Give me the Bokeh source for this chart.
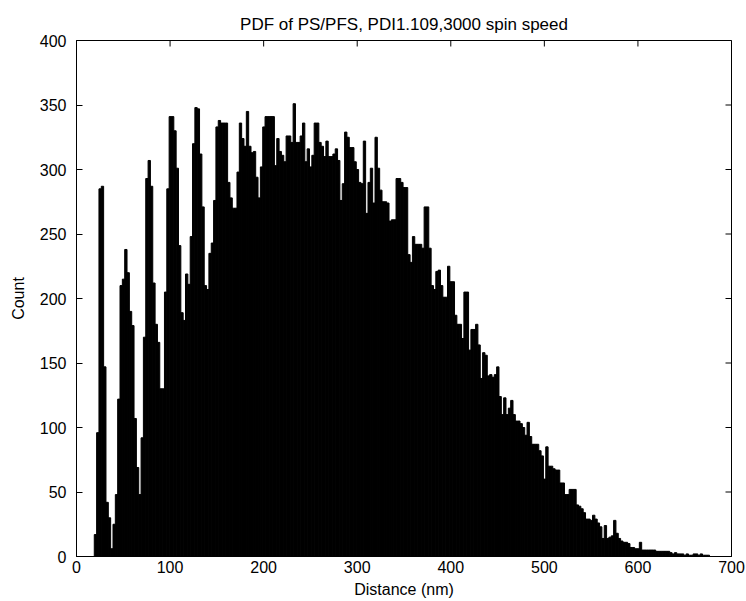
import math
from bokeh.plotting import figure
from bokeh.models import FixedTicker, ColumnDataSource, Range1d
from bokeh.embed import file_html
from bokeh.resources import INLINE

# ---- data (histogram of distances, 2.5 nm bins starting at 19 nm) ----
bin_start = 19.0
bin_width = 2.5
counts = [
    17, 96, 285, 287, 147, 42, 30, 6, 25, 48,
    122, 210, 215, 238, 220, 190, 179, 107, 69, 48,
    92, 170, 293, 307, 287, 212, 180, 166, 130, 130,
    205, 285, 341, 341, 330, 301, 241, 189, 183, 219,
    211, 248, 320, 348, 347, 312, 271, 210, 207, 235,
    243, 276, 333, 338, 336, 336, 336, 290, 278, 270,
    270, 298, 336, 324, 318, 345, 318, 313, 314, 294,
    278, 302, 333, 341, 341, 341, 341, 303, 324, 314,
    311, 306, 326, 326, 321, 351, 321, 321, 326, 336,
    306, 316, 302, 311, 336, 336, 321, 318, 310, 322,
    310, 310, 312, 316, 307, 276, 289, 329, 325, 317,
    317, 306, 300, 290, 289, 322, 266, 290, 301, 274,
    325, 301, 284, 275, 275, 274, 260, 261, 261, 293,
    293, 290, 286, 286, 234, 228, 248, 242, 242, 242,
    239, 271, 271, 239, 210, 207, 221, 222, 210, 201,
    201, 225, 213, 213, 187, 180, 180, 169, 205, 205,
    160, 176, 176, 180, 164, 138, 158, 156, 140, 141,
    139, 141, 147, 124, 110, 123, 110, 115, 121, 110,
    105, 105, 103, 100, 94, 104, 93, 87, 87, 87,
    82, 78, 60, 85, 70, 70, 68, 67, 67, 57,
    57, 48, 48, 52, 52, 52, 40, 39, 37, 34,
    29, 29, 28, 32, 29, 26, 23, 14, 24, 14,
    15, 16, 28, 18, 14, 12, 11, 11, 10, 7,
    7, 6, 6, 11, 5, 5, 5, 5, 5, 5,
    4, 4, 4, 4, 4, 4, 3, 2, 3, 2,
    2, 2, 1, 2, 1, 1, 2, 2, 1, 2,
    1, 1, 1, 0,
]
x_ticks = [0, 100, 200, 300, 400, 500, 600, 700]
y_ticks = [0, 50, 100, 150, 200, 250, 300, 350, 400]
title_text = "PDF of PS/PFS, PDI1.109,3000 spin speed"
x_label = "Distance (nm)"
y_label = "Count"

lefts = [bin_start + bin_width * i for i in range(len(counts))]
rights = [l + bin_width for l in lefts]
src = ColumnDataSource(dict(left=lefts, right=rights, top=counts))

FONT = "Liberation Sans"
X0, X1 = x_ticks[0], x_ticks[-1]
Y0, Y1 = y_ticks[0], y_ticks[-1]

p = figure(width=746, height=601, output_backend="svg", toolbar_location=None,
           x_range=Range1d(X0, X1), y_range=Range1d(Y0, Y1),
           min_border_left=76, min_border_right=15, min_border_top=40,
           min_border_bottom=45, title=title_text)
p.background_fill_color = "white"
p.border_fill_color = "white"
p.outline_line_color = "black"
p.outline_line_width = 1
p.xgrid.visible = False
p.ygrid.visible = False

p.title.text_font = FONT
p.title.text_font_size = "17px"
p.title.text_font_style = "normal"
p.title.align = "center"
p.title.standoff = 14
p.title.text_color = "black"

p.quad(left="left", right="right", top="top", bottom=0, source=src,
       fill_color="black", line_color="black", line_width=1)

# inward tick marks on the top and right edges of the box (MATLAB style)
p.scatter(x=x_ticks, y=[Y1] * len(x_ticks), marker="dash", angle=math.pi / 2,
          size=12, line_color="black", line_width=1)
p.scatter(x=[X1] * len(y_ticks), y=y_ticks, marker="dash",
          size=12, line_color="black", line_width=1)

def style_axis(ax):
    ax.axis_line_color = "black"
    ax.axis_line_width = 1
    ax.major_tick_in = 6
    ax.major_tick_out = 0
    ax.major_tick_line_color = "black"
    ax.minor_tick_line_color = None
    ax.major_label_text_font = FONT
    ax.major_label_text_font_size = "16px"
    ax.major_label_text_color = "black"
    ax.axis_label_text_font = FONT
    ax.axis_label_text_font_size = "16px"
    ax.axis_label_text_font_style = "normal"
    ax.axis_label_text_color = "black"

xa = p.xaxis[0]
xa.ticker = FixedTicker(ticks=x_ticks)
xa.axis_label = x_label
style_axis(xa)
xa.major_label_standoff = 4
xa.axis_label_standoff = 5

ya = p.yaxis[0]
ya.ticker = FixedTicker(ticks=y_ticks)
ya.axis_label = y_label
style_axis(ya)
ya.major_label_standoff = 10
ya.axis_label_standoff = 10

open("out.html", "w").write(file_html(p, INLINE))
